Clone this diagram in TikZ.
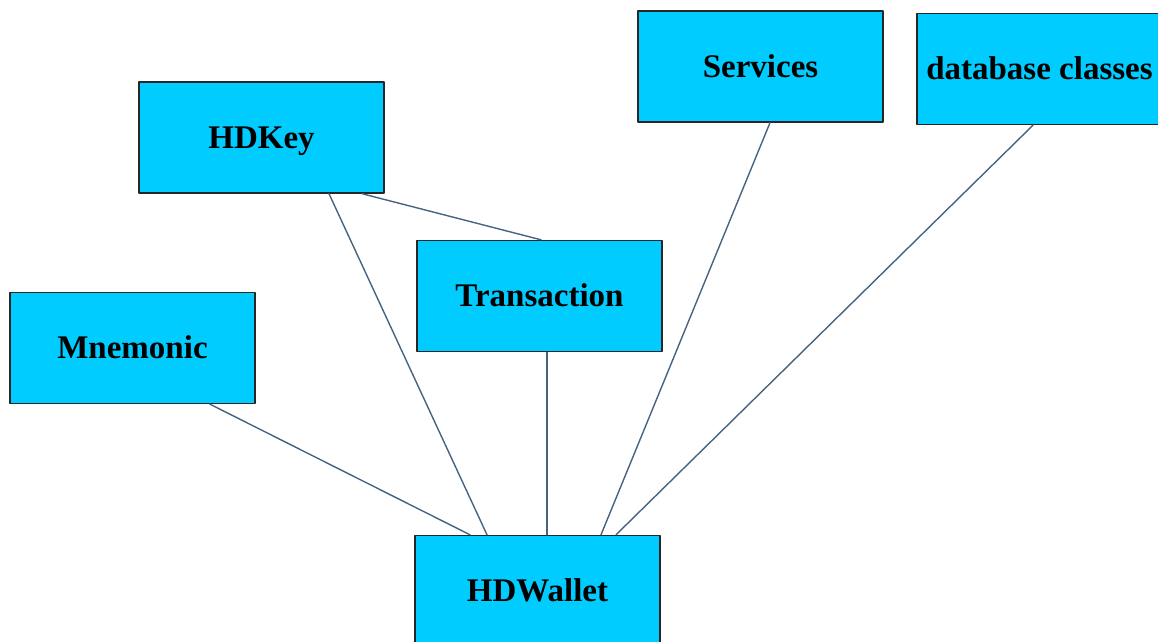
\documentclass[tikz,border=0pt]{standalone}
\usepackage{fontspec}
\setmainfont{Liberation Serif}
\definecolor{boxcyan}{HTML}{00CCFF}
\definecolor{linkblue}{HTML}{46637F}
\begin{document}
\begin{tikzpicture}[line cap=round,line join=round,x=0.5pt,y=-0.5pt,
		cls/.style={draw=black!85,line width=0.7pt,fill=boxcyan,minimum width=122.5pt,minimum height=55.5pt,inner sep=0pt,text height=10.9pt,text depth=0pt,font=\fontsize{16.5}{19}\selectfont\bfseries},
		link/.style={draw=linkblue,line width=0.7pt}]
	\useasboundingbox (0,0) rectangle (1158,642);
	\node[cls] (hdkey) at (261.5,137.5) {HDKey};
	\node[cls] (services) at (760.5,66.5) {Services};
	\node[cls] (dbclasses) at (1039.5,69) {database classes};
	\node[cls] (transaction) at (539.5,296) {Transaction};
	\node[cls] (mnemonic) at (132.5,348) {Mnemonic};
	\node[cls] (hdwallet) at (537.5,591) {HDWallet};
	\draw[link] ([xshift=33.75pt]hdkey.south) -- ([xshift=-25.25pt]hdwallet.north);
	\draw[link] ([xshift=50.25pt]hdkey.south) -- ([xshift=0.75pt]transaction.north);
	\draw[link] ([xshift=3.75pt]transaction.south) -- ([xshift=4.75pt]hdwallet.north);
	\draw[link] ([xshift=38.75pt]mnemonic.south) -- ([xshift=-33.75pt]hdwallet.north);
	\draw[link] ([xshift=4.75pt]services.south) -- ([xshift=31.75pt]hdwallet.north);
	\draw[link] ([xshift=-3.25pt]dbclasses.south) -- ([xshift=39.25pt]hdwallet.north);
\end{tikzpicture}
\end{document}
